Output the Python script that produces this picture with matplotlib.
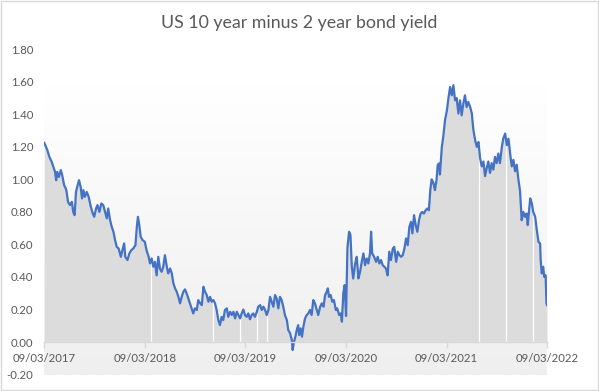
import matplotlib
matplotlib.use("Agg")
import matplotlib.pyplot as plt
import matplotlib.dates as mdates
from matplotlib.colors import LinearSegmentedColormap
from matplotlib.patches import Rectangle
import numpy as np
import pandas as pd

TITLE = "US 10 year minus 2 year bond yield"
START = "2017-03-09"

# days since 09/03/2017
day_offsets = [
    0, 11, 18, 27, 33, 39, 43, 47, 53, 60, 65, 72, 78, 81, 86, 93, 100, 105, 110, 115,
    121, 126, 132, 137, 142, 147, 154, 161, 169, 176, 181, 188, 193, 200, 207, 214, 222, 227, 232, 239,
    245, 251, 257, 263, 270, 278, 285, 290, 294, 302, 309, 316, 323, 331, 336, 340, 345, 350, 357, 365,
    372, 379, 384, 390, 396, 402, 408, 414, 420, 426, 432, 438, 445, 450, 457, 463, 469, 475, 481, 487,
    493, 499, 505, 511, 517, 523, 529, 535, 541, 547, 554, 559, 566, 572, 578, 584, 590, 596, 602, 608,
    614, 620, 626, 632, 638, 644, 650, 656, 663, 668, 675, 681, 687, 693, 699, 705, 711, 717, 723, 729,
    735, 741, 747, 753, 759, 765, 772, 777, 784, 790, 796, 802, 808, 814, 820, 826, 832, 838, 844, 850,
    856, 862, 868, 874, 881, 886, 893, 899, 902, 907, 912, 917, 922, 926, 931, 936, 941, 947, 953, 959,
    965, 971, 977, 983, 990, 995, 1002, 1008, 1014, 1020, 1026, 1030, 1034, 1040, 1046, 1052, 1059, 1064, 1071, 1077,
    1081, 1086, 1091, 1096, 1101, 1107, 1112, 1117, 1122, 1129, 1135, 1141, 1147, 1153, 1159, 1165, 1171, 1177, 1183, 1187,
    1191, 1198, 1205, 1211, 1217, 1223, 1229, 1235, 1241, 1247, 1253, 1259, 1266, 1271, 1278, 1284, 1290, 1296, 1302, 1308,
    1314, 1320, 1326, 1332, 1337, 1343, 1349, 1355, 1361, 1367, 1373, 1379, 1385, 1391, 1397, 1402, 1407, 1413, 1419, 1425,
    1429, 1434, 1437, 1444, 1449, 1456, 1462, 1468, 1474, 1480, 1486, 1492, 1498, 1504, 1510, 1516, 1522, 1528, 1534, 1540,
    1546, 1553, 1558, 1565, 1571, 1577, 1583, 1589, 1595, 1601, 1607, 1613, 1619, 1625, 1631, 1637, 1643, 1649, 1655, 1662,
    1667, 1674, 1680, 1686, 1692, 1698, 1704, 1710, 1716, 1722, 1728, 1734, 1740, 1746, 1752, 1756, 1761, 1765, 1771, 1776,
    1783, 1789, 1795, 1801, 1803, 1807, 1812, 1816, 1821, 1824, 1826,
]

spread = [
    1.224, 1.18, 1.14, 1.107, 1.077, 1.046, 0.995, 1.046, 1.015, 1.057, 1.026, 0.964, 0.944, 0.923, 0.862, 0.842, 0.862, 0.80, 0.78, 0.923,
    0.964, 0.995, 0.954, 0.883, 0.934, 0.893, 0.923, 0.893, 0.831, 0.79, 0.77, 0.821, 0.842, 0.80, 0.852, 0.842, 0.79, 0.76, 0.821, 0.749,
    0.708, 0.678, 0.627, 0.585, 0.575, 0.524, 0.575, 0.606, 0.524, 0.504, 0.545, 0.565, 0.575, 0.596, 0.708, 0.77, 0.719, 0.647, 0.627, 0.616,
    0.56, 0.524, 0.483, 0.514, 0.463, 0.493, 0.41, 0.524, 0.452, 0.432, 0.463, 0.534, 0.463, 0.422, 0.452, 0.422, 0.36, 0.33, 0.309, 0.278,
    0.238, 0.278, 0.309, 0.324, 0.299, 0.268, 0.238, 0.207, 0.176, 0.207, 0.197, 0.258, 0.238, 0.227, 0.34, 0.309, 0.289, 0.248, 0.278, 0.248,
    0.258, 0.238, 0.197, 0.135, 0.104, 0.155, 0.135, 0.197, 0.207, 0.155, 0.186, 0.166, 0.186, 0.145, 0.186, 0.166, 0.145, 0.176, 0.20, 0.166,
    0.155, 0.176, 0.14, 0.166, 0.176, 0.155, 0.186, 0.217, 0.227, 0.197, 0.217, 0.197, 0.166, 0.197, 0.278, 0.248, 0.217, 0.289, 0.268, 0.207,
    0.278, 0.258, 0.217, 0.166, 0.135, 0.074, 0.053, 0.012, -0.049, 0.002, 0.033, 0.074, 0.104, 0.043, 0.084, 0.033, 0.094, 0.145, 0.166, 0.176,
    0.197, 0.166, 0.258, 0.238, 0.197, 0.166, 0.217, 0.238, 0.217, 0.289, 0.309, 0.33, 0.278, 0.289, 0.248, 0.258, 0.197, 0.207, 0.166, 0.176,
    0.125, 0.30, 0.35, 0.16, 0.58, 0.678, 0.66, 0.463, 0.391, 0.483, 0.524, 0.391, 0.432, 0.493, 0.545, 0.473, 0.514, 0.483, 0.545, 0.678,
    0.545, 0.524, 0.493, 0.524, 0.483, 0.504, 0.473, 0.463, 0.452, 0.41, 0.555, 0.504, 0.575, 0.585, 0.493, 0.555, 0.534, 0.524, 0.534, 0.575,
    0.637, 0.596, 0.708, 0.739, 0.668, 0.78, 0.719, 0.678, 0.749, 0.79, 0.80, 0.79, 0.81, 0.821, 0.81, 0.934, 1.0, 0.98, 0.934, 1.0,
    1.09, 1.098, 1.03, 1.20, 1.261, 1.37, 1.42, 1.50, 1.568, 1.517, 1.579, 1.486, 1.50, 1.405, 1.486, 1.394, 1.466, 1.517, 1.445, 1.476,
    1.45, 1.405, 1.31, 1.241, 1.20, 1.23, 1.13, 1.08, 1.11, 1.02, 1.07, 1.11, 1.04, 1.10, 1.06, 1.138, 1.10, 1.159, 1.10, 1.20,
    1.25, 1.282, 1.21, 1.25, 1.16, 1.08, 1.12, 1.05, 1.09, 1.00, 0.93, 0.749, 0.80, 0.77, 0.79, 0.719, 0.81, 0.883, 0.852, 0.80,
    0.77, 0.688, 0.616, 0.606, 0.504, 0.422, 0.463, 0.401, 0.41, 0.238, 0.227,
]

# market holidays with no value (Excel drops the area to zero there)
gap_dates = ["2018-03-30", "2018-11-12", "2019-02-18", "2019-04-19", "2019-05-27",
             "2021-07-05", "2021-10-11", "2022-01-17"]

tick_dates = ["2017-03-09", "2018-03-09", "2019-03-09", "2020-03-09", "2021-03-09", "2022-03-09"]
y_ticks = [-0.2, 0.0, 0.2, 0.4, 0.6, 0.8, 1.0, 1.2, 1.4, 1.6, 1.8]

TEXT_GREY = "#595959"
AXIS_GREY = "#d9d9d9"
LINE_BLUE = "#4472c4"
AREA_GREY = "#dcdcdc"

plt.rcParams["font.family"] = ["Lato", "DejaVu Sans"]

dates = pd.Timestamp(START) + pd.to_timedelta(day_offsets, unit="D")
x = mdates.date2num(dates)
y = np.array(spread)

fig = plt.figure(figsize=(5.99, 3.91), dpi=100)
fig.patches.append(Rectangle((0.001, 0.002), 0.997, 0.995, transform=fig.transFigure,
                             fill=False, edgecolor=AXIS_GREY, lw=1))
ax = fig.add_axes([0.074, 0.042, 0.8392, 0.832])

ymin, ymax = -0.2, 1.8
# soft gradient box behind the series (top of data down to axis minimum)
cmap = LinearSegmentedColormap.from_list("bg", ["#ffffff", "#efefef"])
grad = np.linspace(0, 1, 256).reshape(-1, 1)
ax.imshow(grad, extent=[x[0], x[-1], ymin, y.max()], aspect="auto",
          cmap=cmap, origin="upper", zorder=0, interpolation="bilinear")

ax.fill_between(x, 0, y, color=AREA_GREY, lw=0, zorder=1)
gx = mdates.date2num(pd.to_datetime(gap_dates))
ax.vlines(gx, 0, np.interp(gx, x, y), colors="white", lw=0.9, zorder=2)
ax.plot(x, y, color=LINE_BLUE, lw=1.6, zorder=3, solid_joinstyle="round")

ax.set_xlim(x[0], x[-1])
ax.set_ylim(ymin, ymax)
ax.set_facecolor("none")

for side in ["top", "right", "left"]:
    ax.spines[side].set_visible(False)
ax.spines["bottom"].set_position(("data", 0))
ax.spines["bottom"].set_color(AXIS_GREY)
ax.spines["bottom"].set_linewidth(1)
ax.spines["bottom"].set_zorder(4)

tx = mdates.date2num(pd.to_datetime(tick_dates))
ax.set_xticks(tx)
ax.set_xticklabels([pd.Timestamp(t).strftime("%d/%m/%Y") for t in tick_dates])
ax.tick_params(axis="x", direction="out", length=4, width=1, color=AXIS_GREY,
               labelcolor=TEXT_GREY, labelsize=8.2, pad=4)

ax.set_yticks(y_ticks)
ax.set_yticklabels([f"{v:.2f}" for v in y_ticks])
ax.tick_params(axis="y", length=0, labelcolor=TEXT_GREY, labelsize=8.2, pad=8)

fig.text(0.5, 1 - 23 / 391, TITLE, ha="center", va="center", fontsize=12.8, color=TEXT_GREY)

fig.savefig("out.png", dpi=100)
